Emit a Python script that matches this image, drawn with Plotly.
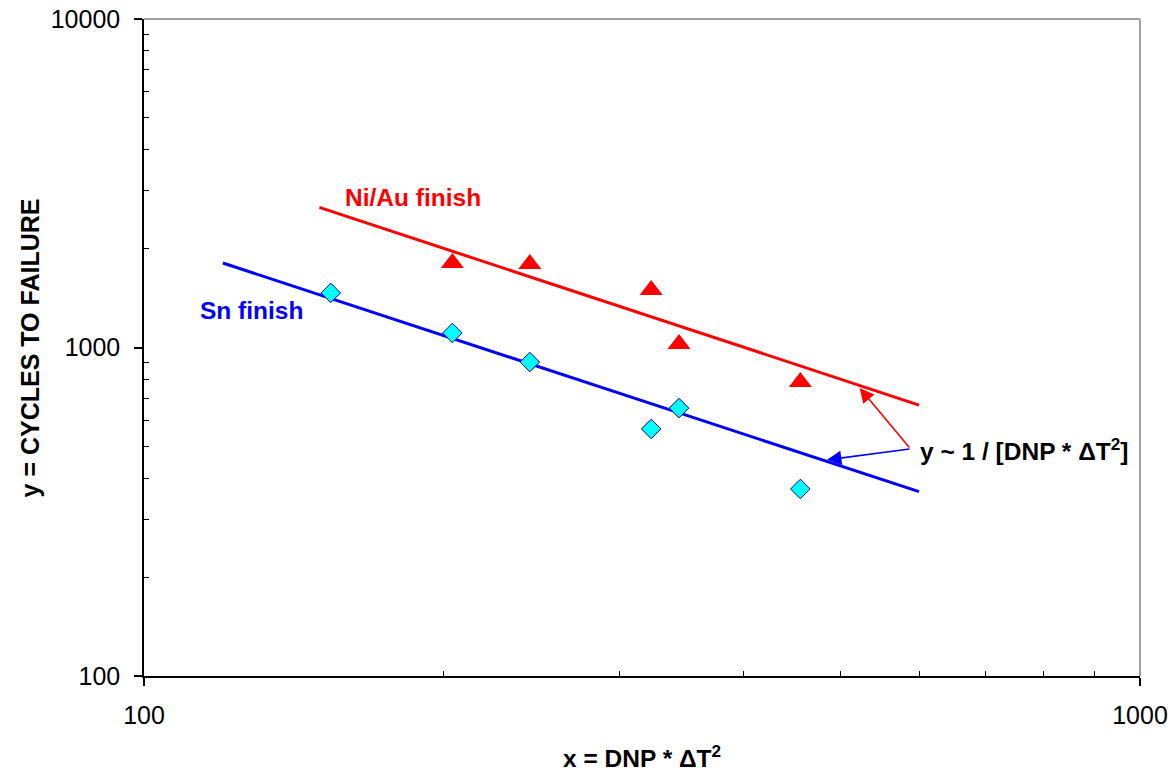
import math
import plotly.graph_objects as go

# ---- data ----
x_points = [154, 204, 244, 323, 344.5, 456]
sn_cycles = [1466, 1107, 903, 565, 654, 371]

x_niau = [204, 244, 323, 344.5, 456]
niau_cycles = [1808, 1796, 1496, 1025, 785]

niau_fit_x = [150, 600]
niau_fit_y = [2670, 668]
sn_fit_x = [120, 600]
sn_fit_y = [1808, 364]

y_major = [100, 1000, 10000]
y_major_labels = ["100", "1000", "10000"]
x_major = [100, 1000]
x_major_labels = ["100", "1000"]
y_minor = [200, 300, 400, 500, 600, 700, 800, 900,
           2000, 3000, 4000, 5000, 6000, 7000, 8000, 9000]
x_minor = [200, 300, 400, 500, 600, 700, 800, 900]

# arrow targets (on the fit lines)
red_arrow_target = (523, 753)
blue_arrow_target = (485, 455)

FONT = "Liberation Sans, Arial, sans-serif"
FS = 24.5
TFS = 25

fig = go.Figure()

fig.add_trace(go.Scatter(x=niau_fit_x, y=niau_fit_y, mode="lines",
                         line=dict(color="#FF0000", width=3), showlegend=False))
fig.add_trace(go.Scatter(x=sn_fit_x, y=sn_fit_y, mode="lines",
                         line=dict(color="#0000FF", width=3), showlegend=False))
fig.add_trace(go.Scatter(x=x_niau, y=niau_cycles, mode="markers",
                         marker=dict(symbol="triangle-up", size=20, color="#FF0000",
                                     line=dict(width=0)), showlegend=False))
fig.add_trace(go.Scatter(x=x_points, y=sn_cycles, mode="markers",
                         marker=dict(symbol="diamond", size=15, color="#00FFFF",
                                     line=dict(color="#000080", width=1)), showlegend=False))

fig.update_layout(
    width=1168, height=773,
    margin=dict(l=144, r=28, t=19, b=97, autoexpand=False),
    paper_bgcolor="white", plot_bgcolor="white",
    font=dict(family=FONT, size=FS, color="black"),
    showlegend=False,
)

fig.update_xaxes(
    type="log", range=[2, 3], automargin=False,
    tickmode="array", tickvals=x_major, ticktext=x_major_labels,
    ticks="outside", ticklen=8, tickwidth=1.5, tickcolor="black",
    showline=True, linecolor="black", linewidth=1.5,
    showgrid=False, zeroline=False,
    ticklabelstandoff=8, ticklabeloverflow="allow",
    tickfont=dict(size=TFS),
    minor=dict(ticks="inside", ticklen=5, tickwidth=1.2, tickcolor="black",
               tickmode="array", tickvals=x_minor, showgrid=False),
)
fig.update_yaxes(
    type="log", range=[2, 4], automargin=False,
    tickmode="array", tickvals=y_major, ticktext=y_major_labels,
    ticks="outside", ticklen=8, tickwidth=1.5, tickcolor="black",
    showline=True, linecolor="black", linewidth=1.5,
    showgrid=False, zeroline=False,
    ticklabelstandoff=9, ticklabeloverflow="allow",
    tickfont=dict(size=TFS),
    minor=dict(ticks="inside", ticklen=5, tickwidth=1.2, tickcolor="black",
               tickmode="array", tickvals=y_minor, showgrid=False),
)

# gray top and right frame
fig.add_shape(type="line", xref="paper", yref="paper", x0=0, x1=1, y0=1, y1=1,
              line=dict(color="#A0A0A0", width=2), layer="below")
fig.add_shape(type="line", xref="paper", yref="paper", x0=1, x1=1, y0=0, y1=1,
              line=dict(color="#A0A0A0", width=2), layer="below")

# axis titles
fig.add_annotation(text="<b>y = CYCLES TO FAILURE</b>", xref="paper", yref="paper",
                   x=-0.1145, y=0.5, textangle=-90, showarrow=False,
                   xanchor="center", yanchor="middle", font=dict(size=TFS, color="black"))
fig.add_annotation(text="<b>x = DNP * ΔT<sup>2</sup></b>", xref="paper", yref="paper",
                   x=0.5, y=-0.123, showarrow=False,
                   xanchor="center", yanchor="middle", font=dict(size=FS, color="black"))

# series labels
fig.add_annotation(text="<b>Ni/Au finish</b>", xref="paper", yref="paper",
                   x=0.1998, y=0.729, showarrow=False, xanchor="left", yanchor="middle",
                   font=dict(size=FS, color="#FF0000"))
fig.add_annotation(text="<b>Sn finish</b>", xref="paper", yref="paper",
                   x=0.0542, y=0.557, showarrow=False, xanchor="left", yanchor="middle",
                   font=dict(size=FS, color="#0000FF"))
fig.add_annotation(text="<b>y ~ 1 / [DNP * ΔT<sup>2</sup>]</b>", xref="paper", yref="paper",
                   x=0.777, y=0.344, showarrow=False, xanchor="left", yanchor="middle",
                   font=dict(size=FS, color="black"))

# arrows
fig.add_annotation(text="", x=math.log10(red_arrow_target[0]), y=math.log10(red_arrow_target[1]),
                   xref="x", yref="y", ax=51, ay=61, showarrow=True,
                   arrowhead=2, arrowsize=1.8, arrowwidth=1.6, arrowcolor="#FF0000", standoff=0)
fig.add_annotation(text="", x=math.log10(blue_arrow_target[0]), y=math.log10(blue_arrow_target[1]),
                   xref="x", yref="y", ax=84, ay=-11, showarrow=True,
                   arrowhead=2, arrowsize=1.8, arrowwidth=1.6, arrowcolor="#0000FF", standoff=0)

# remove the default page margin so the figure fills the window exactly
fig.write_html("out.html", config={"displayModeBar": False},
               post_script="document.body.style.margin='0';document.body.style.overflow='hidden';")
